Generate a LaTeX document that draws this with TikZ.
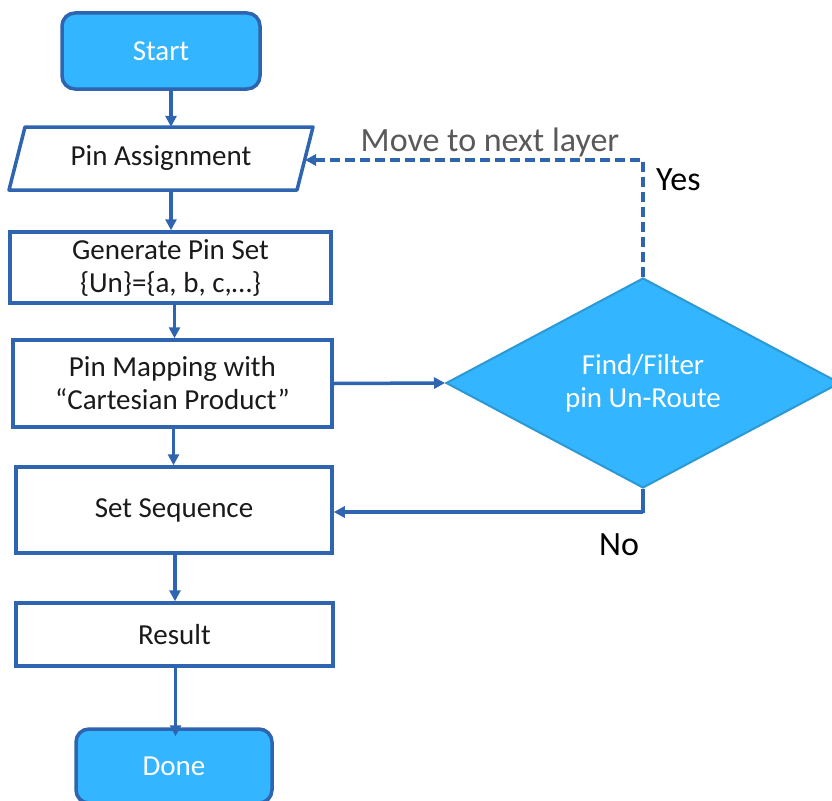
\documentclass[tikz,border=0pt]{standalone}
\usepackage{fontspec}
\setmainfont{Carlito}
\usetikzlibrary{arrows.meta,shapes.geometric}
\definecolor{edgeblue}{HTML}{2E64B0}
\definecolor{termfill}{HTML}{33B5FF}
\definecolor{diaedge}{HTML}{2C98D4}
\definecolor{notegray}{HTML}{595959}
\definecolor{boxtext}{HTML}{1A1A1A}
\begin{document}
\begin{tikzpicture}[x=1pt,y=-1pt,
  boxfont/.style={font=\fontsize{29}{33}\selectfont},
  labfont/.style={font=\fontsize{34}{38}\selectfont},
  procbox/.style={draw=edgeblue, line width=3.5pt, fill=white, text=boxtext,
    align=center, inner sep=0pt, boxfont},
  termbox/.style={draw=edgeblue, line width=3.5pt, fill=termfill, text=white,
    rounded corners=13pt, inner sep=0pt, boxfont},
  decbox/.style={shape=diamond, draw=diaedge, line width=2pt, fill=termfill,
    text=white, align=center, inner sep=0pt, aspect=1.876, boxfont},
  arr/.style={draw=edgeblue, line width=3.5pt,
    -{Triangle[length=11pt,width=11pt]}},
  loopline/.style={arr, dash pattern=on 10pt off 5pt}]

\clip (0,0) rectangle (832,800);

% terminals
\node[termbox, minimum width=198pt, minimum height=76pt] (start) at (161,51) {Start};
\node[termbox, minimum width=196pt, minimum height=74pt] (done) at (174,766) {Done};

% input parallelogram: outline drawn as a path, text held by a plain node
\draw[edgeblue, line width=3.5pt, fill=white, line join=round]
  (25,127) -- (313,127) -- (297,190) -- (9,190) -- cycle;
\node[boxfont, text=boxtext, minimum width=280pt, minimum height=63pt, inner sep=0pt]
  (pa) at (161,158.5) {Pin Assignment};
\coordinate (paright) at (305,160);

% process steps
\node[procbox, minimum width=321pt, minimum height=71pt] (gen) at (170.5,267.5)
  {Generate Pin Set\\\{Un\}=\{a, b, c,\ldots\}};
\node[procbox, minimum width=319pt, minimum height=87pt] (map) at (172.5,383.5)
  {Pin Mapping with\\“Cartesian Product”};
\node[procbox, minimum width=316pt, minimum height=86pt] (seq) at (174,510) {Set Sequence};
\node[procbox, minimum width=317pt, minimum height=63pt] (res) at (174.5,634.5) {Result};

% decision
\node[decbox, minimum width=394pt, minimum height=210pt] (dia) at (643,383)
  {Find/Filter\\pin Un-Route};

% main flow
\draw[arr] ([xshift=10pt]start.south) -- ([xshift=10pt]start.south |- pa.north);
\draw[arr] ([xshift=10pt]pa.south) -- ([xshift=10pt]pa.south |- gen.north);
\draw[arr] ([xshift=2pt]gen.south -| map.north) -- ([xshift=2pt]map.north);
\draw[arr] ([xshift=1pt]map.south) -- ([xshift=1pt]map.south |- seq.north);
\draw[arr] ([xshift=1pt]seq.south) -- ([xshift=1pt]seq.south |- res.north);
\draw[arr] ([xshift=1pt]res.south) -- ([xshift=1pt,yshift=-9pt]res.south |- done.north);

% decision branches
\draw[arr] (map.east) -- (dia.west);
\draw[arr] (dia.south) -- ++(0,24) -- (dia.south |- 0,512) -- (seq.east |- 0,512);
\draw[loopline] (dia.north) |- (paright);

% branch labels
\node[labfont, text=notegray, anchor=base, inner sep=0pt] (movelab) at (490,151) {Move to next layer};
\node[labfont, text=black, anchor=base west, inner sep=0pt] (yeslab) at (656,190) {Yes};
\node[labfont, text=black, anchor=base west, inner sep=0pt] (nolab) at (599,555) {No};
\end{tikzpicture}
\end{document}
